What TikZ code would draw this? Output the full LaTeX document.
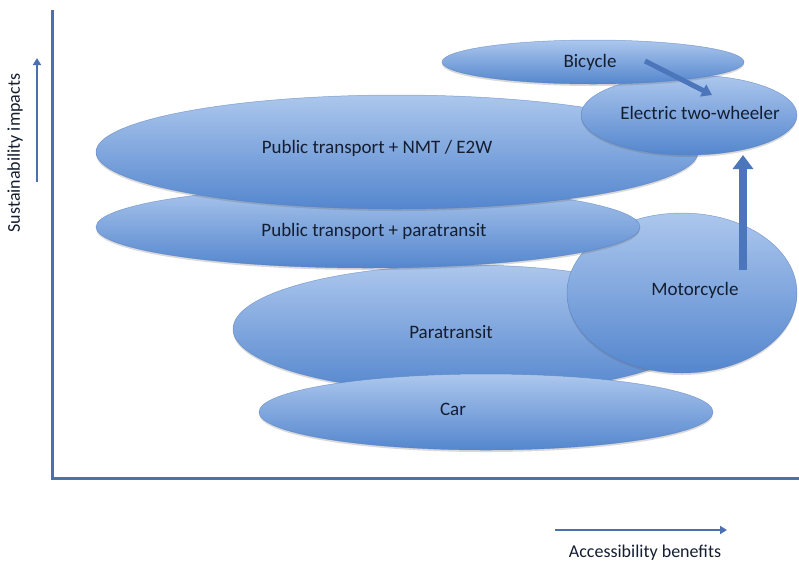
\documentclass[tikz,border=0pt]{standalone}
\usepackage{fontspec}
\setmainfont{Carlito}
\usetikzlibrary{shapes.geometric,arrows.meta,shadows,calc}
\definecolor{axisblue}{RGB}{74,112,176}
\definecolor{elltop}{RGB}{172,199,237}
\definecolor{ellbot}{RGB}{84,134,206}
\definecolor{elledge}{RGB}{82,122,186}
\definecolor{txt}{RGB}{20,30,48}
\definecolor{arrowblue}{RGB}{76,118,188}
\begin{document}
\begin{tikzpicture}[x=1pt,y=-1pt,
  blob/.style={ellipse, inner sep=0pt, top color=elltop, bottom color=ellbot,
    draw=elledge, draw opacity=0.6, line width=0.5pt,
    drop shadow={shadow xshift=0pt, shadow yshift=-2pt, opacity=0.25, fill=black!60}},
  lbl/.style={font=\fontsize{19}{21}\selectfont, text=txt, inner sep=1pt},
  axislbl/.style={font=\fontsize{18}{20}\selectfont, text=txt, inner sep=1pt},
  axisline/.style={draw=axisblue, line width=3pt},
  smallarrow/.style={draw=axisblue, line width=2.5pt, -{Triangle[length=7pt,width=8pt]}},
  bigarrow/.style={draw=arrowblue, -{Triangle[length=14pt,width=20pt]}}
]
\useasboundingbox (0,0) rectangle (799,566);

% axes
\coordinate (ytop) at (52,10);
\coordinate (xend) at (799,478);
\draw[axisline] (ytop) |- (xend);

% axis arrows and labels
\coordinate (ya) at (37,182);
\coordinate (yb) at (37,58);
\draw[smallarrow] (ya) -- (yb);
\node[axislbl, rotate=90] (ylab) at (15,153) {Sustainability impacts};
\coordinate (xa) at (555,530);
\coordinate (xb) at (727,530);
\draw[smallarrow] (xa) -- (xb);
\node[axislbl] (xlab) at (645,553) {Accessibility benefits};

% ellipses (back to front)
\node[blob, minimum width=470pt, minimum height=128pt] (para) at (468,329) {};
\node[lbl] (paratxt) at (451,332) {Paratransit};
\node[blob, minimum width=454pt, minimum height=76pt] (car) at (486,412) {};
\node[lbl] (cartxt) at (453,409) {Car};
\node[blob, minimum width=230pt, minimum height=160pt] (moto) at (682,293) {};
\node[lbl] (mototxt) at (695,290) {Motorcycle};
\node[blob, minimum width=544pt, minimum height=82pt] (ptpara) at (368,227) {};
\node[lbl] (ptparatxt) at (374,231) {Public transport + paratransit};
\node[blob, minimum width=602pt, minimum height=114pt] (ptnmt) at (397,152) {};
\node[lbl] (ptnmttxt) at (377,148) {Public transport + NMT / E2W};
\node[blob, minimum width=216pt, minimum height=80pt] (e2w) at (689,115) {};
\node[lbl] (e2wtxt) at (700,113) {Electric two-wheeler};
\node[blob, minimum width=302pt, minimum height=44pt] (bic) at (593,62) {};
\node[lbl] (bictxt) at (590,62) {Bicycle};

% transition arrows
\coordinate (b1) at (645,61);
\coordinate (b2) at (712,95);
\draw[bigarrow, line width=5pt, -{Triangle[length=10pt,width=13pt]}] (b1) -- (b2);
\coordinate (m1) at (743,270);
\coordinate (m2) at (743,155);
\draw[bigarrow, line width=8pt] (m1) -- (m2);
\end{tikzpicture}
\end{document}
